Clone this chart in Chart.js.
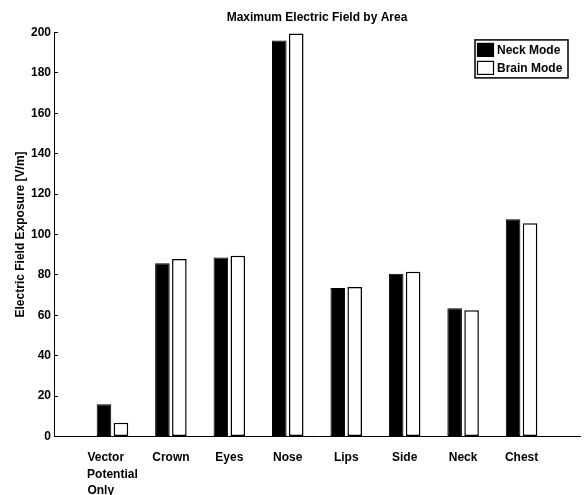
<!DOCTYPE html>
<html lang="en">
<head>
<meta charset="UTF-8">
<title>Maximum Electric Field by Area</title>
<script src="https://cdn.jsdelivr.net/npm/chart.js"></script>
<style>
  html, body { margin: 0; padding: 0; background: #fff; }
  #wrap { width: 585px; height: 495px; }
</style>
</head>
<body>
<div id="wrap"><canvas id="field-chart"></canvas></div>
<script>
// data
const areas = ['Vector Potential Only', 'Crown', 'Eyes', 'Nose', 'Lips', 'Side', 'Neck', 'Chest'];
// tick labels as printed (first one padded so lines line up on the left)
const areaLabels = [['Vector    ', 'Potential', 'Only       '], 'Crown', 'Eyes', 'Nose', 'Lips', 'Side', 'Neck', 'Chest'];
const neckMode = [16, 85.8, 88.6, 196, 73.5, 80.5, 63.5, 107.5];
const brainMode = [6.8, 87.8, 89.4, 199.5, 74, 81.5, 62.5, 105.5];
const yTicks = [0, 20, 40, 60, 80, 100, 120, 140, 160, 180, 200];

const font = { family: '"Liberation Sans", Arial, sans-serif', size: 12, weight: 'bold' };
Chart.defaults.color = '#000';

// boxed legend in the upper right corner of the axes
const boxLegend = {
  id: 'boxLegend',
  afterDraw(chart) {
    const { ctx, chartArea } = chart;
    const x0 = chartArea.right - 105;
    const y0 = chartArea.top + 7.5;
    ctx.save();
    ctx.lineWidth = 1.5;
    ctx.strokeStyle = '#000';
    ctx.fillStyle = '#fff';
    ctx.fillRect(x0, y0, 93, 38);
    ctx.strokeRect(x0, y0, 93, 38);
    ctx.font = 'bold 12px "Liberation Sans", Arial, sans-serif';
    ctx.textBaseline = 'middle';
    chart.data.datasets.forEach((ds, i) => {
      const y = y0 + 3.5 + i * 18;
      ctx.fillStyle = ds.backgroundColor;
      ctx.fillRect(x0 + 2.5, y, 16, 13);
      ctx.lineWidth = 1.2;
      ctx.strokeRect(x0 + 2.5, y, 16, 13);
      ctx.fillStyle = '#000';
      ctx.fillText(ds.label, x0 + 22, y + 7);
    });
    ctx.restore();
  }
};

new Chart(document.getElementById('field-chart'), {
  type: 'bar',
  data: {
    datasets: [{
      label: 'Neck Mode',
      data: areas.map((a, i) => ({ x: i + 1, y: neckMode[i] })),
      backgroundColor: '#000',
      borderColor: '#000',
      borderWidth: 1,
      borderSkipped: false
    }, {
      label: 'Brain Mode',
      data: areas.map((a, i) => ({ x: i + 1, y: brainMode[i] })),
      backgroundColor: '#fff',
      borderColor: '#000',
      borderWidth: 1.5,
      borderSkipped: false
    }]
  },
  options: {
    responsive: true,
    maintainAspectRatio: false,
    animation: false,
    categoryPercentage: 0.58,
    barPercentage: 0.86,
    layout: { padding: { left: 0, right: 5, top: 0, bottom: 0 } },
    plugins: {
      legend: { display: false },
      tooltip: { enabled: false },
      title: {
        display: true,
        text: 'Maximum Electric Field by Area',
        fullSize: false,
        font: font,
        color: '#000',
        padding: { top: 10, bottom: 8 }
      }
    },
    scales: {
      x: {
        type: 'linear',
        offset: false,
        min: 0,
        max: areas.length + 1,
        afterBuildTicks: (axis) => { axis.ticks = areas.map((a, i) => ({ value: i + 1 })); },
        afterFit: (axis) => { axis.height = 58.5; },
        grid: { display: false, drawTicks: false, offset: false },
        border: { display: true, color: '#000', width: 1 },
        ticks: {
          autoSkip: false,
          maxRotation: 0,
          padding: 13,
          font: { ...font, lineHeight: 1.375 },
          color: '#000',
          callback: (value, index) => areaLabels[index]
        }
      },
      y: {
        min: 0,
        max: 200,
        afterBuildTicks: (axis) => { axis.ticks = yTicks.map(v => ({ value: v })); },
        afterFit: (axis) => { axis.width = 54; },
        grid: { drawOnChartArea: false, tickLength: -4, color: '#000' },
        border: { display: true, color: '#000', width: 1 },
        ticks: { padding: 7, font: font, color: '#000' },
        title: {
          display: true,
          text: 'Electric Field Exposure [V/m]',
          font: font,
          color: '#000',
          padding: { top: 13, bottom: 0 }
        }
      }
    }
  },
  plugins: [boxLegend]
});
</script>
</body>
</html>
